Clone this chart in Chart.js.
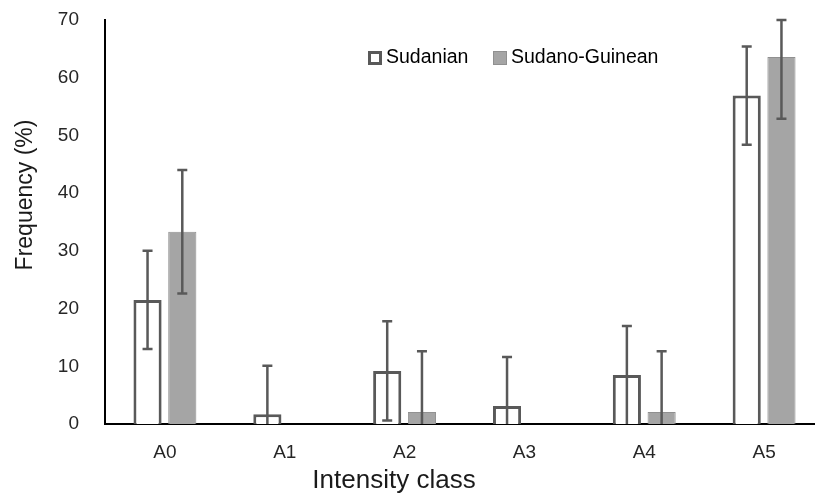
<!DOCTYPE html>
<html>
<head>
<meta charset="utf-8">
<script src="https://cdn.jsdelivr.net/npm/chart.js@4.4.1/dist/chart.umd.min.js"></script>
<style>
  html, body { margin: 0; padding: 0; background: #fff; overflow: hidden; }
  #wrap { position: relative; width: 824px; height: 499px; }
</style>
</head>
<body>
<div id="wrap"><canvas id="chart"></canvas></div>
<script>
// Data
const classes = ['A0', 'A1', 'A2', 'A3', 'A4', 'A5'];
const sudanian = [21.5, 1.7, 9.2, 3.1, 8.5, 56.9];
const sudanianErr = [8.5, 8.4, 8.6, 8.5, 8.5, 8.5];
const sudanoGuinean = [33.3, 0, 2.1, 0, 2.1, 63.6];
const sudanoGuineanErr = [10.7, 0, 10.5, 0, 10.5, 10.7];
const yTicks = [0, 10, 20, 30, 40, 50, 60, 70];

const FONT = "'Liberation Sans', Arial, sans-serif";
const errColor = '#595959';

// draws the error bars over each dataset, clipped to the axis range
const errorBars = {
    id: 'errorBars',
    afterDatasetsDraw(chart) {
        const ctx = chart.ctx;
        const y = chart.scales.y;
        ctx.save();
        ctx.strokeStyle = errColor;
        ctx.lineWidth = 2.5;
        chart.data.datasets.forEach((ds, i) => {
            const meta = chart.getDatasetMeta(i);
            meta.data.forEach((bar, j) => {
                const e = ds.err[j];
                if (!e) return;
                const v = ds.data[j];
                const hi = Math.min(v + e, y.max);
                const lo = v - e;
                const x = bar.x;
                const yHi = y.getPixelForValue(hi);
                const yLo = y.getPixelForValue(Math.max(lo, 0));
                ctx.beginPath();
                ctx.moveTo(x, yLo);
                ctx.lineTo(x, yHi);
                ctx.moveTo(x - 5, yHi);
                ctx.lineTo(x + 5, yHi);
                if (lo > 0) {
                    ctx.moveTo(x - 5, yLo);
                    ctx.lineTo(x + 5, yLo);
                }
                ctx.stroke();
            });
        });
        ctx.restore();
    }
};

// axis titles and legend placed like the original figure
const labelsPlugin = {
    id: 'labelsPlugin',
    afterDraw(chart) {
        const ctx = chart.ctx;
        ctx.save();
        ctx.fillStyle = '#1a1a1a';
        ctx.textAlign = 'center';
        ctx.textBaseline = 'middle';
        ctx.font = '26px ' + FONT;
        ctx.fillText('Intensity class', 394, 481);

        ctx.font = '23px ' + FONT;
        ctx.translate(26, 195);
        ctx.rotate(-Math.PI / 2);
        ctx.fillText('Frequency (%)', 0, 0);
        ctx.restore();

        // legend
        ctx.save();
        ctx.font = '19.5px ' + FONT;
        ctx.textBaseline = 'middle';
        const items = [
            { x: 368, ds: chart.data.datasets[0] },
            { x: 493, ds: chart.data.datasets[1] }
        ];
        items.forEach(it => {
            const bw = it.ds.borderWidth;
            ctx.fillStyle = it.ds.backgroundColor;
            ctx.fillRect(it.x, 51, 14, 14);
            ctx.strokeStyle = it.ds.borderColor;
            ctx.lineWidth = bw;
            ctx.strokeRect(it.x + bw / 2, 51 + bw / 2, 14 - bw, 14 - bw);
            ctx.fillStyle = '#000';
            ctx.fillText(it.ds.label, it.x + 18, 58);
        });
        ctx.restore();
    }
};

new Chart(document.getElementById('chart'), {
    type: 'bar',
    data: {
        labels: classes,
        datasets: [{
            label: 'Sudanian',
            data: sudanian,
            err: sudanianErr,
            backgroundColor: '#ffffff',
            borderColor: '#595959',
            borderWidth: 3
        }, {
            label: 'Sudano-Guinean',
            data: sudanoGuinean,
            err: sudanoGuineanErr,
            backgroundColor: '#a5a5a5',
            borderColor: '#909090',
            borderWidth: 1
        }]
    },
    options: {
        responsive: true,
        maintainAspectRatio: false,
        animation: false,
        layout: { padding: { top: 20, right: 0, bottom: 0, left: 0 } },
        datasets: { bar: { categoryPercentage: 0.58, barPercentage: 0.81 } },
        scales: {
            x: {
                grid: { display: false },
                border: { color: '#000', width: 2 },
                ticks: { color: '#262626', font: { family: FONT, size: 19 }, padding: 9 },
                afterFit: s => { s.height = 75; s.paddingLeft = 0; s.paddingRight = 0; }
            },
            y: {
                min: 0,
                max: 70,
                afterBuildTicks: s => { s.ticks = yTicks.map(v => ({ value: v })); },
                grid: { display: false },
                border: { color: '#000', width: 2 },
                ticks: { color: '#262626', font: { family: FONT, size: 19 }, padding: 18 },
                afterFit: s => { s.width = 105; s.paddingTop = 0; s.paddingBottom = 0; }
            }
        },
        plugins: {
            legend: { display: false },
            tooltip: { enabled: false }
        }
    },
    plugins: [errorBars, labelsPlugin]
});
</script>
</body>
</html>
